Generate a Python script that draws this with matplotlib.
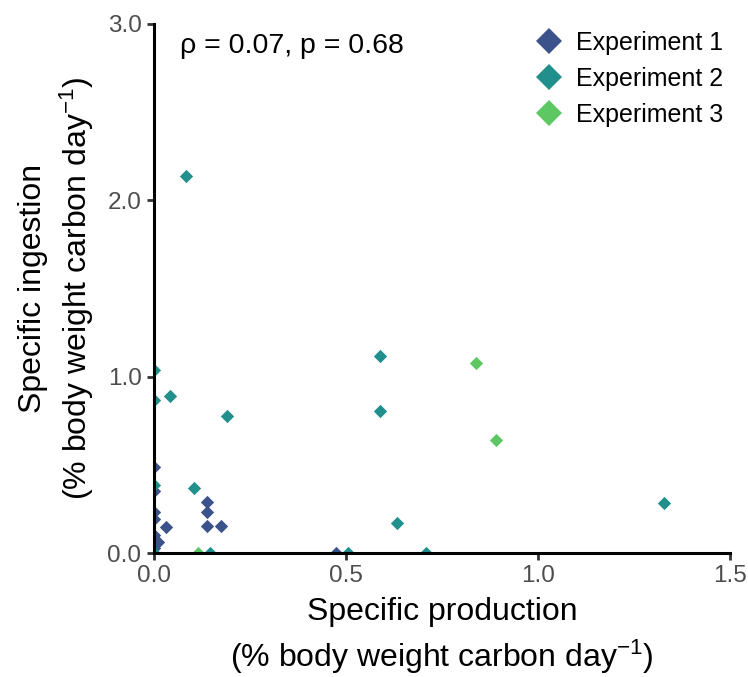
import matplotlib
matplotlib.use("Agg")
import matplotlib.pyplot as plt
from matplotlib.lines import Line2D

plt.rcParams["font.family"] = ["Liberation Sans", "DejaVu Sans"]
plt.rcParams["mathtext.fontset"] = "custom"
plt.rcParams["mathtext.rm"] = "Liberation Sans"
plt.rcParams["mathtext.it"] = "Liberation Sans"

# Specific production (x) and specific ingestion (y) per experiment
exp1_x = [0.0, 0.0, 0.0, 0.0, 0.03, 0.0, 0.01, 0.0, 0.138, 0.138, 0.138, 0.174, 0.475]
exp1_y = [0.49, 0.35, 0.23, 0.19, 0.15, 0.10, 0.06, 0.03, 0.29, 0.23, 0.155, 0.155, 0.0]

exp2_x = [0.083, 0.0, 0.0, 0.042, 0.19, 0.589, 0.589, 0.105, 0.0, 0.633, 1.328, 0.505, 0.708, 0.146, 0.0]
exp2_y = [2.14, 1.04, 0.87, 0.89, 0.775, 1.115, 0.805, 0.37, 0.385, 0.17, 0.285, 0.0, 0.0, 0.0, 0.0]

exp3_x = [0.839, 0.891, 0.115]
exp3_y = [1.08, 0.64, 0.0]

series = [
    ("Experiment 1", exp1_x, exp1_y, "#3B528B"),
    ("Experiment 2", exp2_x, exp2_y, "#21908C"),
    ("Experiment 3", exp3_x, exp3_y, "#5DC863"),
]

x_ticks = [0.0, 0.5, 1.0, 1.5]
y_ticks = [0.0, 1.0, 2.0, 3.0]
stat_label = "ρ = 0.07, p = 0.68"

fig = plt.figure(figsize=(7.48, 6.77), dpi=100)
ax = fig.add_axes([154 / 748, 1 - 553 / 677, (730 - 154) / 748, (553 - 24) / 677])

for name, xs, ys, col in series:
    ax.scatter(xs, ys, marker="D", s=46, color=col, linewidths=0, label=name, zorder=3)

ax.set_xlim(0, 1.5)
ax.set_ylim(0, 3.0)
ax.set_xticks(x_ticks)
ax.set_yticks(y_ticks)
ax.set_xticklabels([f"{v:.1f}" for v in x_ticks])
ax.set_yticklabels([f"{v:.1f}" for v in y_ticks])

for side in ("top", "right"):
    ax.spines[side].set_visible(False)
for side in ("left", "bottom"):
    ax.spines[side].set_linewidth(2.2)
    ax.spines[side].set_color("black")
    ax.spines[side].set_zorder(4)

ax.tick_params(axis="both", direction="out", length=5, width=2, color="#333333",
               labelsize=17.5, labelcolor="#4D4D4D", pad=4)

ax.set_xlabel("Specific production\n(% body weight carbon day$^{\\mathrm{-1}}$)",
              fontsize=23, linespacing=1.35, labelpad=7)
ax.set_ylabel("Specific ingestion\n(% body weight carbon day$^{\\mathrm{-1}}$)",
              fontsize=23, linespacing=1.35, labelpad=8)

ax.text(0.068, 2.875, stat_label, fontsize=20.5, va="center", ha="left")

handles = [Line2D([], [], marker="D", linestyle="none", markersize=13,
                  markerfacecolor=col, markeredgewidth=0, label=name)
           for name, _, _, col in series]
ax.legend(handles=handles, loc="upper right", bbox_to_anchor=(1.018, 1.02),
          frameon=False, fontsize=18, handletextpad=0.45, labelspacing=0.48,
          handlelength=1.2, borderpad=0.2)

fig.savefig("out.png", dpi=100)
